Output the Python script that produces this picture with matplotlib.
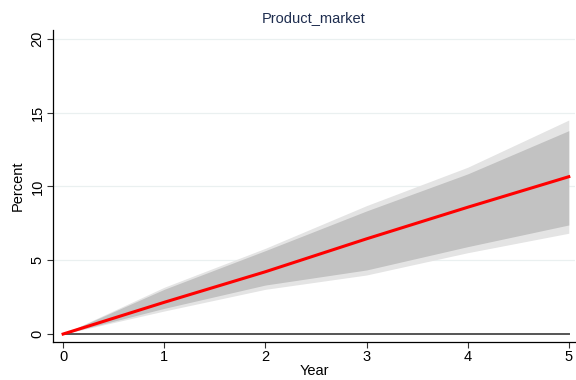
import matplotlib
matplotlib.use("Agg")
import matplotlib.pyplot as plt

plt.rcParams['font.family'] = ['Liberation Sans', 'DejaVu Sans']

# Impulse response of Product_market with confidence bands
years = [0, 1, 2, 3, 4, 5]
irf = [0.0, 2.15, 4.22, 6.45, 8.59, 10.66]
outer_lo = [0.0, 1.56, 3.03, 4.00, 5.51, 6.83]
outer_hi = [0.0, 3.17, 5.81, 8.70, 11.30, 14.50]
inner_lo = [0.0, 1.74, 3.32, 4.34, 5.92, 7.39]
inner_hi = [0.0, 3.03, 5.65, 8.34, 10.85, 13.78]

x_ticks = [0, 1, 2, 3, 4, 5]
y_ticks = [0, 5, 10, 15, 20]

fig = plt.figure(figsize=(5.76, 3.80), dpi=100)
ax = fig.add_axes([0.092, 0.1, 0.906, 0.821])

for y in y_ticks[1:]:
    ax.axhline(y, color='#eaf0f0', lw=0.9, zorder=0)

ax.fill_between(years, outer_lo, outer_hi, color='#e4e4e4', lw=0, zorder=1)
ax.fill_between(years, inner_lo, inner_hi, color='#c2c2c2', lw=0, zorder=2)
ax.plot([years[0], years[-1]], [0, 0], color='#555555', lw=1.4, zorder=3)
ax.plot(years, irf, color='#ff0000', lw=2.2, zorder=4)

ax.set_xlim(-0.1, 5.06)
ax.set_ylim(-0.54, 20.6)
ax.set_xticks(x_ticks)
ax.set_yticks(y_ticks)
ax.set_yticklabels([str(v) for v in y_ticks], rotation=90, va='center')
ax.tick_params(axis='both', labelsize=10.5, length=4, width=0.8, color='#333333', pad=2)

for s in ('top', 'right'):
    ax.spines[s].set_visible(False)
for s in ('left', 'bottom'):
    ax.spines[s].set_linewidth(0.9)
    ax.spines[s].set_color('black')

ax.set_xlabel('Year', fontsize=10.5, labelpad=0)
ax.set_ylabel('Percent', fontsize=10.5, labelpad=4)
ax.set_title('Product_market', fontsize=10.5, color='#1e2d4f', pad=6)

fig.savefig('out.png', dpi=100)
